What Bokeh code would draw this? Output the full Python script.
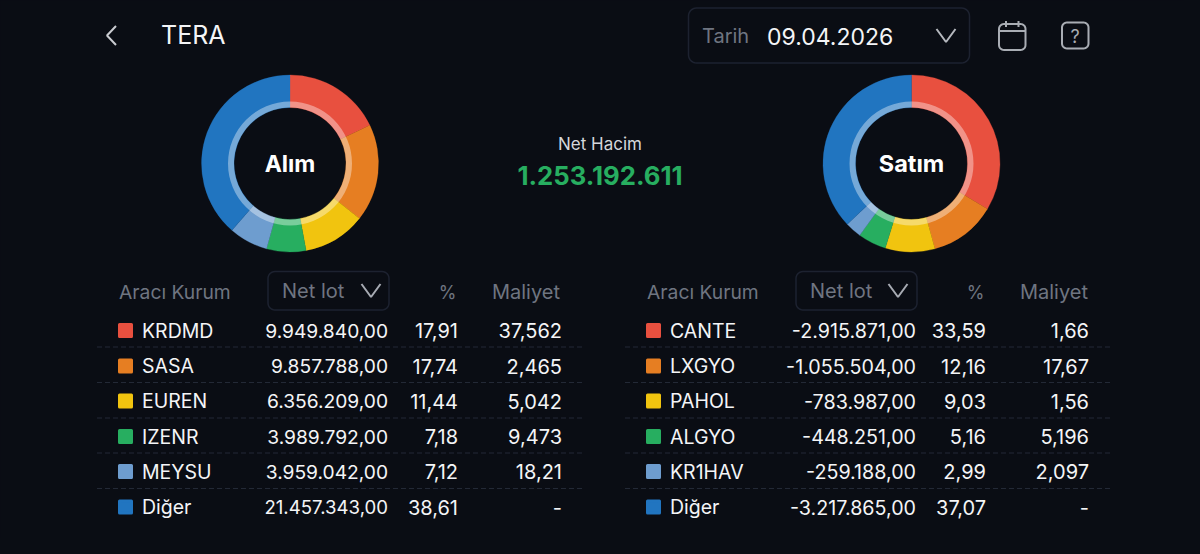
import numpy as np
from bokeh.plotting import figure
from bokeh.embed import file_html
from bokeh.resources import INLINE
from bokeh.models import ColumnDataSource
from bokeh.core.properties import value

# ---- data ----
buy_names = ["KRDMD", "SASA", "EUREN", "IZENR", "MEYSU", "Diğer"]
buy_lots = [9949840.00, 9857788.00, 6356209.00, 3989792.00, 3959042.00, 21457343.00]
buy_pct = [17.91, 17.74, 11.44, 7.18, 7.12, 38.61]
buy_cost = ["37,562", "2,465", "5,042", "9,473", "18,21", "-"]

sell_names = ["CANTE", "LXGYO", "PAHOL", "ALGYO", "KR1HAV", "Diğer"]
sell_lots = [-2915871.00, -1055504.00, -783987.00, -448251.00, -259188.00, -3217865.00]
sell_pct = [33.59, 12.16, 9.03, 5.16, 2.99, 37.07]
sell_cost = ["1,66", "17,67", "1,56", "5,196", "2,097", "-"]

colors = ["#E8503F", "#E67E22", "#F1C40F", "#27AE60", "#6E9DCF", "#2175C0"]
title = "TERA"
date_label = "Tarih"
date_value = "09.04.2026"
net_label = "Net Hacim"
net_value = "1.253.192.611"
headers = ["Aracı Kurum", "Net lot", "%", "Maliyet"]

BG = "#0A0D14"
GREY = "#6F7581"
BORDER = "#1D2230"
WHITE = "#F4F5F7"
FONT = "Inter"
H = 546

def Y(v):
    return H - np.asarray(v, dtype=float)

p = figure(width=1184, height=538, x_range=(0.5, 1184.5), y_range=(7.5, H - 0.5),
           output_backend="svg", toolbar_location=None, min_border=0,
           background_fill_color=BG, border_fill_color=BG, outline_line_color=None)
p.axis.visible = False
p.grid.visible = False

def txt(x, y, s, size, color=WHITE, align="left", style="normal"):
    p.text([x], [Y(y)], text=[s], text_font=value(FONT), text_font_size=f"{size}px",
           text_color=color, text_align=align, text_baseline="middle", text_font_style=style)

def rrect(x0, y0, x1, y1, r):
    t = np.linspace(0, np.pi / 2, 8)
    xs = np.r_[x1 - r + r * np.sin(t), x1 - r + r * np.cos(t), x0 + r - r * np.sin(t), x0 + r - r * np.cos(t)]
    ys = np.r_[y0 + r - r * np.cos(t), y1 - r + r * np.sin(t), y1 - r + r * np.cos(t), y0 + r - r * np.sin(t)]
    return xs, Y(ys)

def box(x0, y0, x1, y1, r, color=BORDER, w=1.5, fill=None):
    xs, ys = rrect(x0, y0, x1, y1, r)
    p.patch(xs, ys, fill_color=fill, fill_alpha=1 if fill else 0, line_color=color, line_width=w)

def chevron(cx, cy, w, h, color, lw=2):
    p.line([cx - w, cx, cx + w], Y([cy - h, cy + h, cy - h]), line_color=color, line_width=lw)

def donut(cx, cy, pct, label, size):
    frac = np.array(pct) / sum(pct)
    ends = np.cumsum(frac)
    starts = ends - frac
    start = np.pi / 2 - 2 * np.pi * ends
    end = np.pi / 2 - 2 * np.pi * starts
    src = ColumnDataSource(dict(s=start, e=end, c=colors))
    p.annular_wedge(x=cx, y=float(Y(cy)), inner_radius=56, outer_radius=88.5, start_angle="s", end_angle="e",
                    fill_color="c", line_color="c", line_width=0.3, source=src)
    p.annular_wedge(x=cx, y=float(Y(cy)), inner_radius=56, outer_radius=62, start_angle=-np.pi, end_angle=np.pi,
                    fill_color="#FFFFFF", fill_alpha=0.38, line_color=None)
    txt(cx, cy, label, size, "#FFFFFF", style="bold", align="center")

def lot_size(v):
    if abs(v) >= 1e7:
        return 18.6
    return 19.2 if v > 0 else 19.7

def table(names, lots, pct, cost, x_sw, x_name, x_lot, x_pct, x_cost, hx, dbx, x0, x1, lotx, phx, chx, ddx):
    rows = [330.5, 366, 401, 436.5, 471.5, 507]
    seps = [347, 382.5, 418, 453, 488.5]
    txt(hx, 292, headers[0], 19.3, GREY)
    box(dbx, 271.5, dbx + 121, 310, 7)
    txt(lotx, 291, headers[1], 20, GREY)
    chevron(ddx, 290.5, 9.5, 6.5, "#A7ABB3")
    txt(phx, 292, headers[2], 18, GREY, "right")
    txt(chx, 292, headers[3], 20, GREY, "right")
    for i, yy in enumerate(rows):
        p.scatter([x_sw], [Y(yy)], marker="square", size=12, fill_color=colors[i], line_color=colors[i],
                  line_width=3, line_join="round")
        txt(x_name, yy, names[i], 19.5)
        lot = f"{lots[i]:,.2f}".replace(",", "#").replace(".", ",").replace("#", ".")
        txt(x_lot, yy, lot, lot_size(lots[i]), align="right")
        txt(x_pct, yy, f"{pct[i]:.2f}".replace(".", ","), 20, align="right")
        txt(x_cost, yy, cost[i], 20, align="right")
    for yy in seps:
        p.line([x0, x1], Y([yy, yy]), line_color="#232936", line_width=1.2, line_dash=[5, 3])

# header
p.line([116, 107, 116], Y([26, 35.5, 45]), line_color="#C9CBD0", line_width=2)
txt(161, 35, title, 25)
box(688.5, 8, 969.5, 63, 8)
txt(702, 36, date_label, 20, GREY)
txt(767, 36, date_value, 23)
chevron(946, 35.5, 9.5, 6.5, "#B5B8BE")

# calendar icon
box(999, 24, 1025.5, 50, 5, "#A9ADB4", 2)
p.line([999, 1025.5], Y([31, 31]), line_color="#A9ADB4", line_width=2)
p.multi_line([[1006, 1006], [1018.5, 1018.5]], [list(Y([21, 27])), list(Y([21, 27]))], line_color="#A9ADB4", line_width=2)
# help icon
box(1062, 22.5, 1088.5, 48.5, 5, "#A9ADB4", 2)
txt(1075.2, 36, "?", 18, "#A9ADB4", "center")

# centre
txt(600, 144, net_label, 17, "#D5D7DB", "center")
txt(600, 175, net_value, 25.7, "#27AE60", "center", "bold")

donut(290, 163.5, buy_pct, "Alım", 23)
donut(911.5, 163.5, sell_pct, "Satım", 23.5)

table(buy_names, buy_lots, buy_pct, buy_cost, 125.5, 142, 388, 458, 562, 119, 268, 97, 583, 282, 456.5, 560, 371)
table(sell_names, sell_lots, sell_pct, sell_cost, 653.5, 670, 916, 986, 1089, 647, 796, 625, 1110, 810, 984.5, 1088, 898)

html = file_html(p, INLINE).replace("<head>", "<head><style>html,body{background:#0A0D14}</style>", 1)
open("out.html", "w").write(html)
